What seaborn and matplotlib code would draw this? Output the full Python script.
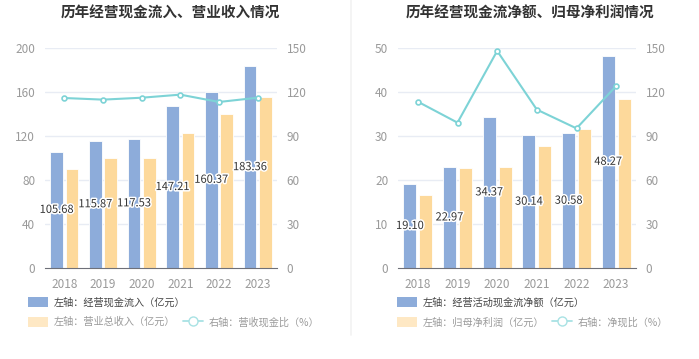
import numpy as np
import pandas as pd
import seaborn as sns
import matplotlib.pyplot as plt
from matplotlib.patches import Patch
from matplotlib.lines import Line2D
import matplotlib.patheffects as pe

# data
years = ['2018', '2019', '2020', '2021', '2022', '2023']

cash_in = [105.68, 115.87, 117.53, 147.21, 160.37, 183.36]
revenue = [89.7, 99.8, 100.0, 122.7, 140.0, 155.7]
cash_rev_ratio = [115.9, 114.8, 116.1, 118.2, 113.2, 116.1]

net_cash = [19.10, 22.97, 34.37, 30.14, 30.58, 48.27]
net_profit = [16.6, 22.8, 23.0, 27.7, 31.7, 38.5]
net_ratio = [113.4, 99.1, 148.0, 108.0, 95.2, 124.1]

left_ticks_1 = [0, 40, 80, 120, 160, 200]
right_ticks_1 = [0, 30, 60, 90, 120, 150]
left_ticks_2 = [0, 10, 20, 30, 40, 50]
right_ticks_2 = [0, 30, 60, 90, 120, 150]

BLUE = '#8DACDA'
YELLOW = '#FDD99B'
TEAL = '#7DD3D6'
GRID = '#E8ECF4'
TICK = '#9A9A9A'

sns.set_style('white')
plt.rcParams['font.family'] = ['Noto Sans CJK SC', 'DejaVu Sans']

fig = plt.figure(figsize=(6.99, 3.59), dpi=100)


def panel(rect, title, title_x, bar1, bar2, line, lt, rt, names, lx):
    ax = fig.add_axes(rect)
    df = pd.DataFrame({'year': years * 2,
                       'val': bar1 + bar2,
                       'kind': [names[0]] * 6 + [names[1]] * 6})
    sns.barplot(data=df, x='year', y='val', hue='kind', palette=[BLUE, YELLOW],
                gap=0.17, ax=ax, legend=False, edgecolor='white', linewidth=0.6,
                saturation=1)
    ax.set_ylim(lt[0], lt[-1])
    ax.set_yticks(lt)
    ax.set_xlabel('')
    ax.set_ylabel('')
    for y in lt[1:]:
        ax.axhline(y, color=GRID, lw=1, zorder=0)
    for s in ['top', 'right', 'left']:
        ax.spines[s].set_visible(False)
    ax.spines['bottom'].set_color('#6E7079')
    ax.tick_params(axis='y', length=0, labelsize=8.5, colors=TICK, pad=7)
    ax.tick_params(axis='x', length=4, width=0.8, color='#6E7079',
                   labelsize=8.5, labelcolor=TICK, pad=3)

    # value labels at the middle of the blue bars
    for bar, v in zip(ax.containers[0], bar1):
        ax.text(bar.get_x() + bar.get_width() / 2, v / 2, f'{v:.2f}',
                ha='center', va='center', fontsize=8, color='#333333',
                path_effects=[pe.withStroke(linewidth=2.2, foreground='white')],
                zorder=5)

    ax2 = ax.twinx()
    sns.pointplot(x=years, y=line, ax=ax2, color=TEAL, markers='o',
                  markersize=3.5, linewidth=1.5, markerfacecolor='white',
                  markeredgewidth=1.2)
    ax2.set_ylim(rt[0], rt[-1])
    ax2.set_yticks(rt)
    ax2.set_ylabel('')
    for s in ['top', 'right', 'left', 'bottom']:
        ax2.spines[s].set_visible(False)
    ax2.tick_params(axis='y', length=0, labelsize=8.5, colors=TICK, pad=7)

    # title
    fig.text(title_x, 1 - 13 / 359, title,
             ha='center', va='center', fontsize=10.5, fontweight='bold',
             color='#333333')

    # legend rows
    h1 = [Patch(facecolor=BLUE, edgecolor='none')]
    fig.legend(h1, [names[0]], loc='center left',
               bbox_to_anchor=(lx, 1 - 302 / 359), frameon=False,
               fontsize=7.3, handlelength=2.0, handleheight=1.2,
               handletextpad=0.5, borderpad=0, borderaxespad=0,
               labelcolor='#444444')
    h2 = [Patch(facecolor='#FEE8C4', edgecolor='none'),
          Line2D([], [], color='#A8E2E4', marker='o', markersize=6.5,
                 markerfacecolor='white', lw=1.3)]
    fig.legend(h2, [names[1], names[2]], loc='center left',
               bbox_to_anchor=(lx, 1 - 322 / 359), frameon=False,
               fontsize=7.3, handlelength=2.0, handleheight=1.2,
               handletextpad=0.5, borderpad=0, borderaxespad=0, ncol=2,
               columnspacing=0.8, labelcolor='#9A9A9A')
    return ax


panel([45 / 699, 1 - 268 / 359, 232 / 699, 220 / 359],
      '历年经营现金流入、营业收入情况', 170 / 699, cash_in, revenue, cash_rev_ratio,
      left_ticks_1, right_ticks_1,
      ['左轴：经营现金流入（亿元）', '左轴：营业总收入（亿元）', '右轴：营收现金比（%）'],
      28 / 699)

panel([398 / 699, 1 - 268 / 359, 238 / 699, 220 / 359],
      '历年经营现金流净额、归母净利润情况', 530 / 699, net_cash, net_profit, net_ratio,
      left_ticks_2, right_ticks_2,
      ['左轴：经营活动现金流净额（亿元）', '左轴：归母净利润（亿元）', '右轴：净现比（%）'],
      397 / 699)

# faint divider between the two panels
fig.add_artist(Line2D([351 / 699, 351 / 699], [1 - 335 / 359, 1], color='#F2F2F2', lw=1.2))

fig.savefig('out.png', dpi=100)
